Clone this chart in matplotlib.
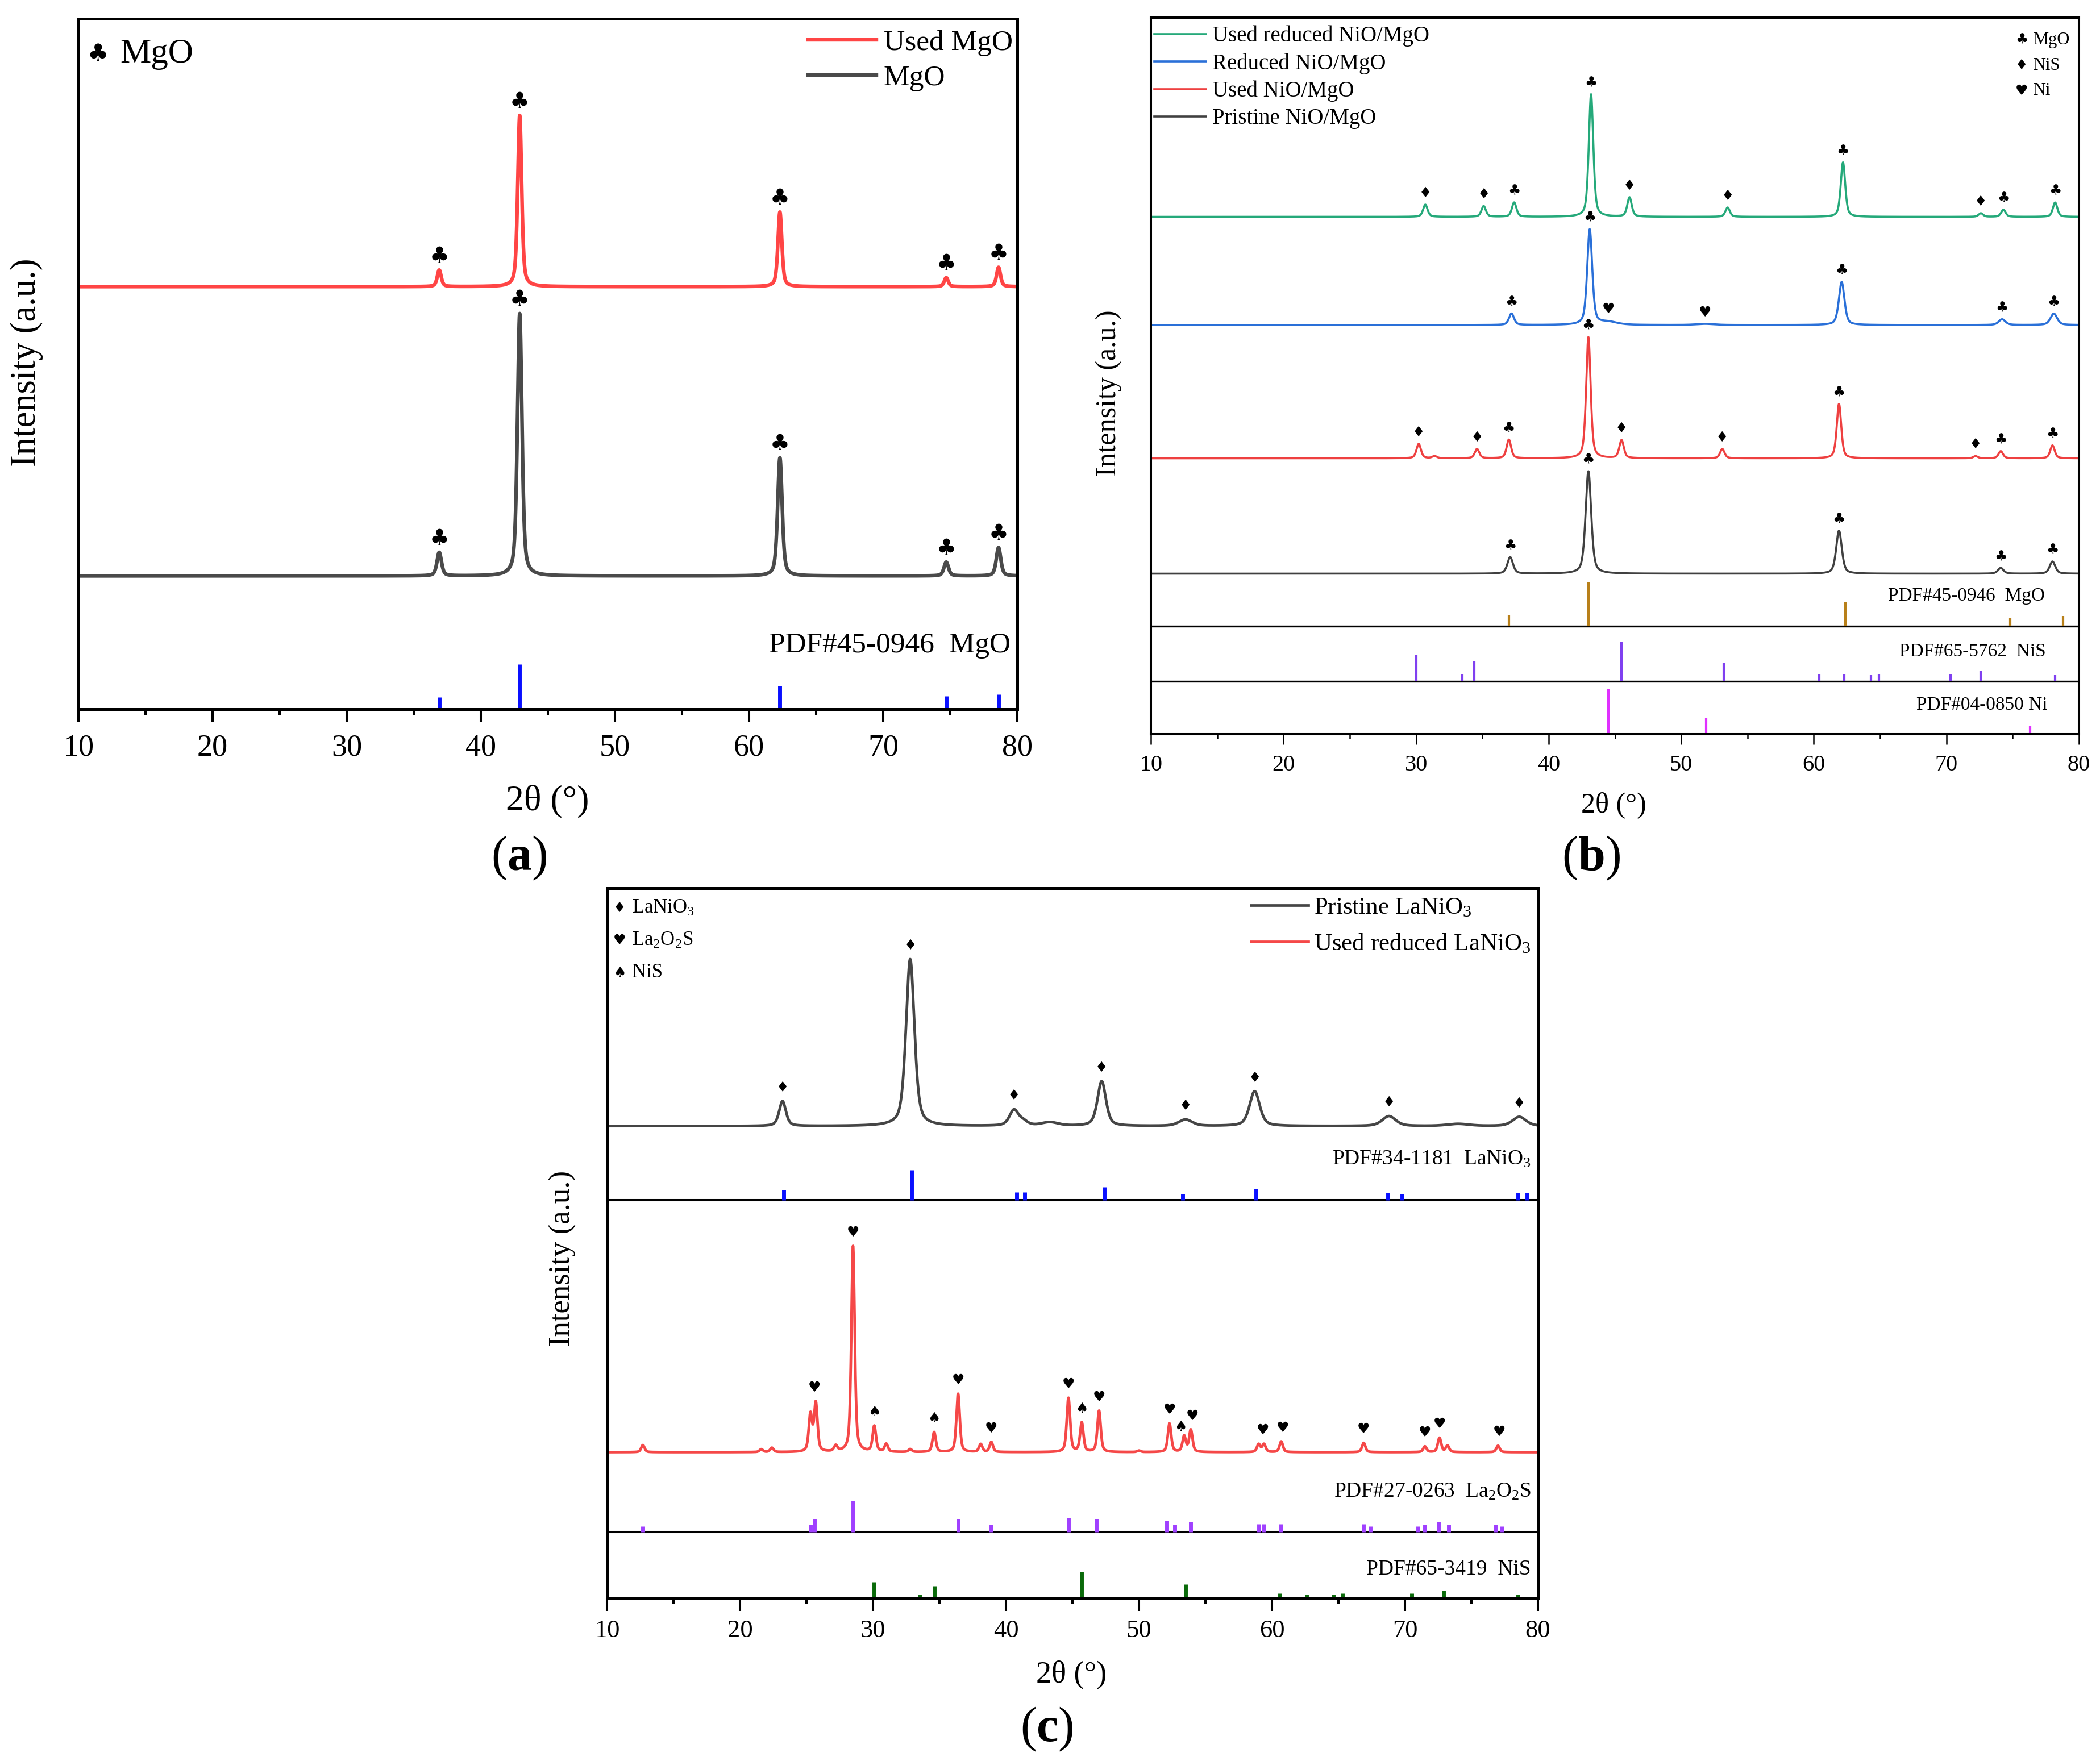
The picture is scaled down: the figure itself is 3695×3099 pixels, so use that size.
import numpy as np
import matplotlib
matplotlib.use('Agg')
import matplotlib.pyplot as plt
from matplotlib.ticker import MultipleLocator

plt.rcParams['font.family'] = ['Liberation Serif', 'DejaVu Sans']
plt.rcParams['mathtext.fontset'] = 'custom'
plt.rcParams['mathtext.rm'] = 'Liberation Serif'
plt.rcParams['mathtext.it'] = 'Liberation Serif:italic'
plt.rcParams['mathtext.bf'] = 'Liberation Serif:bold'
SYM = ['DejaVu Sans']

# ---------------- data: panel (a) ----------------
A_POS = [36.9, 42.9, 62.3, 74.7, 78.6]
A_USED_BASE = 61.2
A_USED_H = [2.4, 24.8, 10.8, 1.3, 2.8]
A_MGO_BASE = 19.3
A_MGO_H = [3.4, 38.0, 17.1, 2.0, 4.1]
A_REF_H = [1.7, 6.5, 3.4, 1.9, 2.1]

# ---------------- data: panel (b) ----------------
B_GREEN_BASE = 72.2
B_GREEN_POS = [30.7, 35.1, 37.4, 43.2, 46.1, 53.5, 62.2, 72.6, 74.3, 78.2]
B_GREEN_H = [1.7, 1.5, 2.0, 17.1, 2.7, 1.3, 7.6, 0.5, 1.0, 2.0]
B_GREEN_SYM = ['♦', '♦', '♣', '♣', '♦', '♦', '♣', '♦', '♣', '♣']

B_BLUE_BASE = 57.1
B_BLUE_POS = [37.2, 43.1, 44.5, 51.8, 62.1, 74.2, 78.1]
B_BLUE_H = [1.6, 13.3, 0.4, 0.15, 6.0, 0.8, 1.6]
B_BLUE_W = [0.45, 0.45, 1.6, 1.6, 0.5, 0.6, 0.6]
B_BLUE_SYM = ['♣', '♣', '♥', '♥', '♣', '♣', '♣']

B_RED_BASE = 38.5
B_RED_POS = [30.2, 31.4, 34.6, 37.0, 43.0, 45.5, 53.1, 61.9, 72.2, 74.1, 78.0]
B_RED_H = [2.0, 0.3, 1.3, 2.6, 16.9, 2.5, 1.3, 7.6, 0.3, 1.0, 1.8]
B_RED_MARK_POS = [30.2, 34.6, 37.0, 43.0, 45.5, 53.1, 61.9, 72.2, 74.1, 78.0]
B_RED_SYM = ['♦', '♦', '♣', '♣', '♦', '♦', '♣', '♦', '♣', '♣']

B_BLACK_BASE = 22.4
B_BLACK_POS = [37.1, 43.0, 61.9, 74.1, 78.0]
B_BLACK_H = [2.3, 14.3, 6.0, 0.8, 1.7]

B_SEP = [15.1, 7.4]
B_MGO_POS = [37.0, 43.0, 62.4, 74.8, 78.8]
B_MGO_H = [1.5, 6.1, 3.3, 1.1, 1.4]
B_NIS_POS = [30.0, 33.5, 34.4, 45.5, 53.2, 60.4, 62.3, 64.3, 64.9, 70.3, 72.6, 78.2]
B_NIS_H = [3.6, 1.0, 2.8, 5.5, 2.6, 1.0, 1.0, 0.9, 1.0, 1.0, 1.4, 0.9]
B_NI_POS = [44.5, 51.9, 76.3]
B_NI_H = [6.3, 2.3, 1.1]

# ---------------- data: panel (c) ----------------
C_GRAY_BASE = 66.5
C_GRAY_POS = [23.2, 32.8, 40.6, 41.3, 43.3, 47.2, 53.5, 58.7, 68.8, 74.0, 78.6]
C_GRAY_H = [3.5, 23.5, 2.2, 0.6, 0.5, 6.3, 0.9, 4.9, 1.4, 0.3, 1.3]
C_GRAY_W = [0.6, 0.75, 0.8, 0.8, 1.5, 0.75, 1.2, 0.9, 1.2, 2.0, 1.2]
C_GRAY_MARK = [23.2, 32.8, 40.6, 47.2, 53.5, 58.7, 68.8, 78.6]

C_SEP = [56.1, 9.4]
C_LANIO3_POS = [23.3, 32.9, 40.8, 41.4, 47.4, 53.3, 58.8, 68.7, 69.8, 78.5, 79.2]
C_LANIO3_H = [1.4, 4.2, 1.1, 1.1, 1.8, 0.9, 1.6, 1.0, 0.9, 1.0, 1.0]

C_RED_BASE = 20.6
C_RED_POS = [12.7, 21.6, 22.4, 25.3, 25.7, 27.2, 28.5, 30.1, 31.0, 32.8, 34.6, 36.4,
             38.1, 38.9, 44.7, 45.7, 47.0, 50.0, 52.3, 53.4, 53.9, 59.0, 59.4, 60.7,
             66.9, 71.5, 72.6, 73.2, 77.0]
C_RED_H = [1.0, 0.4, 0.6, 5.2, 6.8, 0.8, 29.0, 3.6, 1.1, 0.4, 2.8, 8.2,
           1.1, 1.4, 7.6, 4.1, 5.8, 0.2, 4.0, 2.2, 3.1, 1.1, 1.1, 1.5,
           1.3, 0.8, 2.0, 0.9, 0.9]
C_RED_MARK = [25.6, 28.5, 30.1, 34.6, 36.4, 38.9, 44.7, 45.7, 47.0, 52.3, 53.15, 54.0,
              59.3, 60.8, 66.9, 71.5, 72.6, 77.1]
C_RED_SYM = ['♥', '♥', '♠', '♠', '♥', '♥', '♥', '♠', '♥', '♥', '♠', '♥',
             '♥', '♥', '♥', '♥', '♥', '♥']

C_LA2O2S_POS = [12.7, 25.3, 25.6, 28.5, 36.4, 38.9, 44.7, 46.8, 52.1, 52.7, 53.9, 59.0,
                59.4, 60.7, 66.9, 67.4, 71.0, 71.5, 72.5, 73.3, 76.8, 77.3]
C_LA2O2S_H = [0.8, 1.0, 1.8, 4.4, 1.8, 1.0, 2.0, 1.8, 1.6, 1.0, 1.4, 1.1,
              1.1, 1.1, 1.1, 0.8, 0.8, 1.0, 1.4, 1.0, 1.0, 0.8]
C_NIS_POS = [30.1, 33.5, 34.6, 45.7, 53.5, 60.6, 62.6, 64.6, 65.3, 70.5, 72.9, 78.5]
C_NIS_H = [2.3, 0.6, 1.8, 3.8, 2.0, 0.7, 0.6, 0.6, 0.7, 0.7, 1.1, 0.6]

XTICKS = [10, 20, 30, 40, 50, 60, 70, 80]

# ---------------- helpers ----------------
TTH = np.linspace(10, 80, 14001)


def pattern(base, pos, hts, fwhm, eta=0.5):
    y = np.full(TTH.shape, float(base))
    fw = np.broadcast_to(np.asarray(fwhm, float), (len(pos),))
    for p, h, w in zip(pos, hts, fw):
        u = (TTH - p) / (w / 2.0)
        y += h * (eta / (1 + u ** 2) + (1 - eta) * np.exp(-np.log(2) * u ** 2))
    return y


def mark(ax, y, xs, syms, dy, size):
    for xm, s in zip(xs, syms):
        sel = np.abs(TTH - xm) <= 0.15
        ax.text(xm, y[sel].max() + dy, s, ha='center', va='center',
                fontsize=size, family=SYM, color='black')


def style(ax, spw, tsize, tmaj, tmin, tw, pad):
    ax.set_xlim(10, 80)
    ax.set_ylim(0, 100)
    ax.set_yticks([])
    ax.set_xticks(XTICKS)
    ax.xaxis.set_minor_locator(MultipleLocator(5))
    ax.tick_params(axis='x', which='major', direction='out', length=tmaj, width=tw,
                   labelsize=tsize, pad=pad, top=False)
    ax.tick_params(axis='x', which='minor', direction='out', length=tmin, width=tw, top=False)
    for s in ax.spines.values():
        s.set_linewidth(spw)
        s.set_color('black')


W, H = 3695, 3099
fig = plt.figure(figsize=(W / 100, H / 100), dpi=100)


def px_axes(l, r, t, b):
    return [l / W, 1 - b / H, (r - l) / W, (b - t) / H]


axA = fig.add_axes(px_axes(138, 1790, 33, 1248))
axB = fig.add_axes(px_axes(2025, 3658, 31, 1292))
axC = fig.add_axes(px_axes(1068, 2706, 1563, 2813))

# ---------------- panel (a) ----------------
ax = axA
yu = pattern(A_USED_BASE, A_POS, A_USED_H, 0.35)
ym = pattern(A_MGO_BASE, A_POS, A_MGO_H, 0.4)
lu, = ax.plot(TTH, yu, color='#ff4545', lw=4.6, label='Used MgO')
lm, = ax.plot(TTH, ym, color='#4a4a4a', lw=4.6, label='MgO')
ax.vlines(A_POS, 0, A_REF_H, colors='#0a10ff', linewidth=5, capstyle='butt')
mark(ax, yu, A_POS, ['♣'] * 5, 2.0, 28)
mark(ax, ym, A_POS, ['♣'] * 5, 2.0, 28)
ax.text(11.45, 94.9, '♣', ha='center', va='center', fontsize=30, family=SYM)
ax.text(13.1, 94.9, 'MgO', ha='left', va='center', fontsize=44)
ax.text(79.5, 9.2, 'PDF#45-0946  MgO', ha='right', va='center', fontsize=37)
ax.legend(handles=[lu, lm], loc='upper left', bbox_to_anchor=(0.777, 0.9844),
          frameon=False, borderpad=0, borderaxespad=0, handlelength=2.35,
          handletextpad=0.24, labelspacing=0.3, fontsize=37)
style(ax, 3.6, 39, 15.8, 7.2, 2.9, 15)
ax.set_xlabel('2θ (°)', fontsize=46)
ax.xaxis.set_label_coords(0.4994, -0.1333)
ax.xaxis.label.set_va('center')
ax.set_ylabel('Intensity (a.u.)', fontsize=45)
ax.yaxis.set_label_coords(-0.0551, 0.502)
ax.yaxis.label.set_va('center')

# ---------------- panel (b) ----------------
ax = axB
yg = pattern(B_GREEN_BASE, B_GREEN_POS, B_GREEN_H, 0.4)
yb = pattern(B_BLUE_BASE, B_BLUE_POS, B_BLUE_H, B_BLUE_W)
yr = pattern(B_RED_BASE, B_RED_POS, B_RED_H, 0.4)
yk = pattern(B_BLACK_BASE, B_BLACK_POS, B_BLACK_H, 0.5)
hg, = ax.plot(TTH, yg, color='#25a97a', lw=2.6, label='Used reduced NiO/MgO')
hb, = ax.plot(TTH, yb, color='#2a70d8', lw=2.6, label='Reduced NiO/MgO')
hr, = ax.plot(TTH, yr, color='#ee4040', lw=2.6, label='Used NiO/MgO')
hk, = ax.plot(TTH, yk, color='#404040', lw=2.6, label='Pristine NiO/MgO')
mark(ax, yg, B_GREEN_POS, B_GREEN_SYM, 1.6, 18)
mark(ax, yb, B_BLUE_POS, B_BLUE_SYM, 1.6, 18)
mark(ax, yr, B_RED_MARK_POS, B_RED_SYM, 1.6, 18)
mark(ax, yk, B_BLACK_POS, ['♣'] * len(B_BLACK_POS), 1.6, 18)
for s in B_SEP:
    ax.axhline(s, color='black', lw=2.4)
ax.vlines(B_MGO_POS, B_SEP[0], np.add(B_SEP[0], B_MGO_H), colors='#b8801a', linewidth=3, capstyle='butt')
ax.vlines(B_NIS_POS, B_SEP[1], np.add(B_SEP[1], B_NIS_H), colors='#8040f0', linewidth=3, capstyle='butt')
ax.vlines(B_NI_POS, 0, B_NI_H, colors='#e030ff', linewidth=3, capstyle='butt')
ax.text(77.42, 19.3, 'PDF#45-0946  MgO', ha='right', va='center', fontsize=24)
ax.text(77.5, 11.5, 'PDF#65-5762  NiS', ha='right', va='center', fontsize=24)
ax.text(77.6, 4.1, 'PDF#04-0850 Ni', ha='right', va='center', fontsize=24)
for yy, s, t in zip([96.9, 93.3, 89.8], ['♣', '♦', '♥'], ['MgO', 'NiS', 'Ni']):
    ax.text(75.67, yy, s, ha='center', va='center', fontsize=18, family=SYM)
    ax.text(76.52, yy, t, ha='left', va='center', fontsize=22)
ax.legend(handles=[hg, hb, hr, hk], loc='upper left', bbox_to_anchor=(0.0037, 0.9889),
          frameon=False, borderpad=0, borderaxespad=0, handlelength=2.35,
          handletextpad=0.26, labelspacing=0.28, fontsize=28)
style(ax, 2.9, 29, 13, 5.8, 1.8, 13)
ax.set_xlabel('2θ (°)', fontsize=36)
ax.xaxis.set_label_coords(0.499, -0.0991)
ax.xaxis.label.set_va('center')
ax.set_ylabel('Intensity (a.u.)', fontsize=36)
ax.yaxis.set_label_coords(-0.0453, 0.476)
ax.yaxis.label.set_va('center')

# ---------------- panel (c) ----------------
ax = axC
yc1 = pattern(C_GRAY_BASE, C_GRAY_POS, C_GRAY_H, C_GRAY_W)
yc2 = pattern(C_RED_BASE, C_RED_POS, C_RED_H, 0.3)
hc1, = ax.plot(TTH, yc1, color='#454545', lw=3.4, label='Pristine LaNiO$_3$')
hc2, = ax.plot(TTH, yc2, color='#f54848', lw=3.4, label='Used reduced LaNiO$_3$')
mark(ax, yc1, C_GRAY_MARK, ['♦'] * len(C_GRAY_MARK), 1.9, 18)
mark(ax, yc2, C_RED_MARK, C_RED_SYM, 1.9, 18)
for s in C_SEP:
    ax.axhline(s, color='black', lw=2.9)
ax.vlines(C_LANIO3_POS, C_SEP[0], np.add(C_SEP[0], C_LANIO3_H), colors='#0a10ff', linewidth=5, capstyle='butt')
ax.vlines(C_LA2O2S_POS, C_SEP[1], np.add(C_SEP[1], C_LA2O2S_H), colors='#a040ff', linewidth=5, capstyle='butt')
ax.vlines(C_NIS_POS, 0, C_NIS_H, colors='#0a6a0a', linewidth=5, capstyle='butt')
ax.text(79.49, 61.8, 'PDF#34-1181  LaNiO$_3$', ha='right', va='center', fontsize=27)
ax.text(79.49, 15.0, 'PDF#27-0263  La$_2$O$_2$S', ha='right', va='center', fontsize=27)
ax.text(79.49, 4.1, 'PDF#65-3419  NiS', ha='right', va='center', fontsize=27)
for yy, s, t in zip([97.2, 92.6, 88.1], ['♦', '♥', '♠'],
                    ['LaNiO$_3$', 'La$_2$O$_2$S', 'NiS']):
    ax.text(10.94, yy, s, ha='center', va='center', fontsize=18, family=SYM)
    ax.text(11.88, yy, t, ha='left', va='center', fontsize=25)
ax.legend(handles=[hc1, hc2], loc='upper left', bbox_to_anchor=(0.6917, 0.988),
          frameon=False, borderpad=0, borderaxespad=0, handlelength=2.35,
          handletextpad=0.23, labelspacing=0.57, fontsize=31)
style(ax, 3.6, 32, 15.8, 7.2, 2.9, 11)
ax.set_xlabel('2θ (°)', fontsize=39)
ax.xaxis.set_label_coords(0.4988, -0.1072)
ax.xaxis.label.set_va('center')
ax.set_ylabel('Intensity (a.u.)', fontsize=38)
ax.yaxis.set_label_coords(-0.0476, 0.479)
ax.yaxis.label.set_va('center')

# ---------------- panel letters ----------------
for xp, yp, letter in [(913, 1510, 'a'), (2800, 1510, 'b'), (1842, 3043, 'c')]:
    fig.text(xp / W, 1 - yp / H, '(' + r'$\mathbf{' + letter + '}$' + ')',
             ha='center', va='center', fontsize=62)

fig.savefig('out.png', dpi=100)
